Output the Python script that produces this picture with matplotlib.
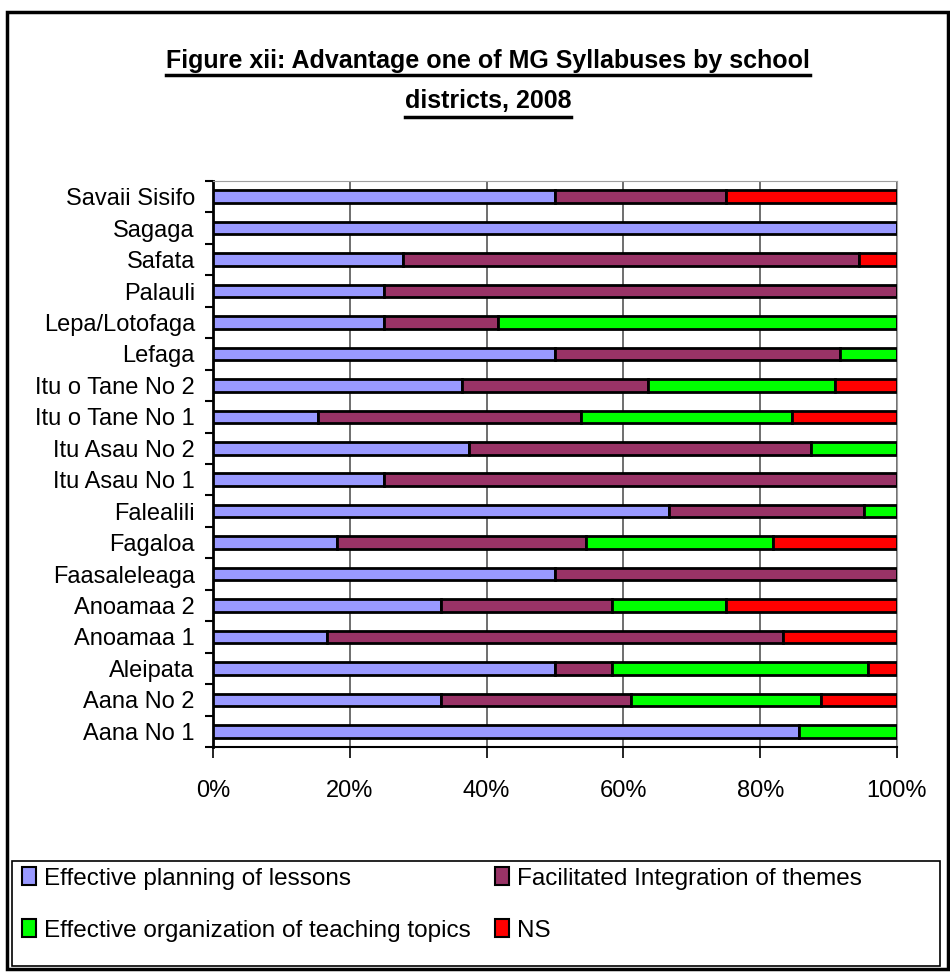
#!/usr/bin/env python3

import numpy as np
import matplotlib.pyplot as plt
from matplotlib.patches import Rectangle, Patch
from matplotlib.lines import Line2D

districts = ["Aana No 1", "Aana No 2", "Aleipata", "Anoamaa 1", "Anoamaa 2",
             "Faasaleleaga", "Fagaloa", "Falealili", "Itu Asau No 1",
             "Itu Asau No 2", "Itu o Tane No 1", "Itu o Tane No 2", "Lefaga",
             "Lepa/Lotofaga", "Palauli", "Safata", "Sagaga", "Savaii Sisifo"]

# percent of responses per district
planning = [85.7, 33.3, 50.0, 16.7, 33.3, 50.0, 18.2, 66.7, 25.0,
            37.5, 15.4, 36.4, 50.0, 25.0, 25.0, 27.8, 100.0, 50.0]
integration = [0.0, 27.8, 8.3, 66.7, 25.0, 50.0, 36.4, 28.6, 75.0,
               50.0, 38.5, 27.3, 41.7, 16.7, 75.0, 66.7, 0.0, 25.0]
organization = [14.3, 27.8, 37.5, 0.0, 16.7, 0.0, 27.3, 4.8, 0.0,
                12.5, 30.8, 27.3, 8.3, 58.3, 0.0, 0.0, 0.0, 0.0]
ns = [0.0, 11.1, 4.2, 16.7, 25.0, 0.0, 18.2, 0.0, 0.0,
      0.0, 15.4, 9.1, 0.0, 0.0, 0.0, 5.6, 0.0, 25.0]

series = [
    ("Effective planning of lessons", planning, "#9999FF"),
    ("Facilitated Integration of themes", integration, "#993366"),
    ("Effective organization of teaching topics", organization, "#00FF00"),
    ("NS", ns, "#FF0000"),
]

plt.rcParams['font.family'] = ['Liberation Sans', 'DejaVu Sans']

W, H = 950, 973
fig = plt.figure(figsize=(W / 100, H / 100), dpi=100)
ax = fig.add_axes([213 / W, 1 - 747 / H, (897 - 213) / W, (747 - 181) / H])

y = np.arange(len(districts))
totals = np.sum([np.array(s[1]) for s in series], axis=0)
left = np.zeros(len(districts))
handles = []
for label, vals, color in series:
    pct = np.array(vals) / totals * 100
    ax.barh(y, pct, 0.4, left=left, color=color, edgecolor='black',
            linewidth=2, zorder=3)
    left += pct
    handles.append(Patch(facecolor=color, edgecolor='black', linewidth=1.5, label=label))

ax.set_xlim(0, 100)
ax.set_ylim(-0.5, len(districts) - 0.5)
ax.set_xticks(np.arange(0, 101, 20))
ax.set_xticklabels([f"{v}%" for v in range(0, 101, 20)], fontsize=17)
ax.set_yticks(y)
ax.set_yticklabels(districts, fontsize=17)
ax.set_yticks(np.arange(-0.5, len(districts), 1), minor=True)
ax.tick_params(axis='y', which='major', length=0, pad=13)
ax.tick_params(axis='y', which='minor', length=6, width=1.5, direction='out')
ax.tick_params(axis='x', length=8, width=1.2, direction='out', pad=16)
ax.grid(axis='x', color='#555555', linewidth=1.2, zorder=0)

ax.spines['left'].set_linewidth(2)
ax.spines['bottom'].set_linewidth(1.5)
ax.spines['top'].set_color('#A0A0A0')
ax.spines['right'].set_color('#A0A0A0')

# title with underline
t1 = fig.text(488 / W, 1 - 68 / H, "Figure xii: Advantage one of MG Syllabuses by school",
              ha='center', va='baseline', fontsize=18, fontweight='bold')
t2 = fig.text(488 / W, 1 - 108 / H, "districts, 2008",
              ha='center', va='baseline', fontsize=18, fontweight='bold')

# legend box and outer frame
fig.add_artist(Rectangle((12 / W, 1 - 966 / H), 928 / W, 105 / H, transform=fig.transFigure,
                         fill=False, edgecolor='black', linewidth=1.2))
fig.add_artist(Rectangle((7 / W, 1 - 969 / H), 941 / W, 957 / H, transform=fig.transFigure,
                         fill=False, edgecolor='black', linewidth=2.5))

order = [0, 2, 1, 3]
fig.legend([handles[i] for i in order], [handles[i].get_label() for i in order],
           ncol=2, loc='upper left', bbox_to_anchor=(17 / W, 1 - 862 / H),
           borderaxespad=0, frameon=False, fontsize=17.5, handlelength=0.6,
           handleheight=0.8, handletextpad=0.3, columnspacing=1.0,
           labelspacing=1.2, borderpad=0.2)

fig.canvas.draw()
r = fig.canvas.get_renderer()
for t, uy in ((t1, 75), (t2, 117)):
    bb = t.get_window_extent(renderer=r)
    fig.add_artist(Line2D([bb.x0 / W, bb.x1 / W], [1 - uy / H, 1 - uy / H],
                          transform=fig.transFigure, color='black', linewidth=2.5))

fig.savefig("out.png", dpi=100)
